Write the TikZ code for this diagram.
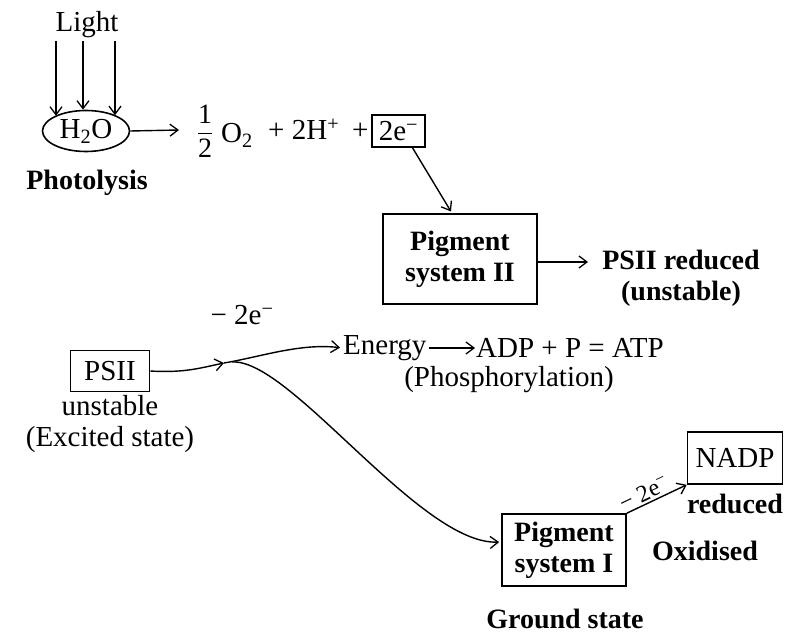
\documentclass[tikz,border=0pt]{standalone}
\usepackage{amsmath}
\usepackage{fontspec}
\setmainfont{Liberation Serif}
\usetikzlibrary{shapes.geometric,arrows.meta}
\begin{document}
\begin{tikzpicture}[x=1pt,y=-1pt,
  arr/.style={-{Straight Barb[length=8pt,width=12pt,line width=1.3pt]}, line width=1.4pt},
  txt/.style={font=\fontsize{29}{31}\selectfont, inner sep=0pt},
  btxt/.style={font=\bfseries\fontsize{28}{31}\selectfont, inner sep=0pt, align=center},
  boxn/.style={draw, line width=1.6pt, inner sep=0pt, align=center}]
\useasboundingbox (0,0) rectangle (786,644);
% photolysis
\node[txt] (light) at (87,25) {Light};
\node[boxn, ellipse, txt, minimum width=87pt, minimum height=41pt] (h2o) at (86,131) {H\textsubscript{2}O};
\coordinate (l1) at (56,41);
\coordinate (l2) at (83,41);
\coordinate (l3) at (115,41);
\draw[arr] (l1) -- (h2o.154 -| l1);
\draw[arr] (l2) -- (h2o.98 -| l2);
\draw[arr] (l3) -- (h2o.28 -| l3);
\node[btxt] (photo) at (87,183) {Photolysis};
\coordinate (a1) at (179,130);
\draw[arr] (h2o.east) -- (a1);
\node[txt] (half) at (205,131) {\fontsize{28}{28}\selectfont$\displaystyle\frac{\text{1}}{\text{2}}$};
\node[txt, anchor=base west] (o2) at (221,143) {O\textsubscript{2}};
\node[txt, anchor=base west] (hplus) at (268,140) {+ 2H\textsuperscript{+}};
\node[txt, anchor=base west] (plus) at (352,140) {+};
\node[boxn, txt, minimum width=53pt, minimum height=32pt] (e2) at (398.5,131) {2e\textsuperscript{−}};
% pigment system II
\node[boxn, btxt, minimum width=154pt, minimum height=90pt] (ps2) at (460,259) {Pigment\\system II};
\draw[arr, shorten >=2pt] ([xshift=14pt]e2.south) -- ([xshift=-8pt]ps2.north);
\coordinate (a2) at (588,262);
\draw[arr] ([yshift=-3pt]ps2.east) -- (a2);
\node[btxt] (psred) at (681,278) {PSII reduced\\(unstable)};
% excited PSII
\node[txt] (m2e) at (242,315) {− 2e\textsuperscript{−}};
\node[boxn, txt, minimum width=79pt, minimum height=41pt] (psii) at (110,371) {PSII};
\node[txt, align=center] (unst) at (110,424) {unstable\\(Excited state)};
\coordinate (j) at (224,363);
\coordinate (j2) at (232,362);
\draw[arr] (psii.east) .. controls (185,373) and (200,368) .. (j);
\node[txt, anchor=west] (energy) at (343,348) {Energy};
\node[txt, anchor=west] (adp) at (476,348) {ADP + P = ATP};
\draw[arr, shorten >=3pt] (j) .. controls (260,357) and (300,343) .. (energy.west);
\draw[arr, shorten <=2pt, shorten >=1pt] (energy.east) -- (adp.west);
\node[txt] (phos) at (509,380) {(Phosphorylation)};
% pigment system I
\node[boxn, btxt, minimum width=124pt, minimum height=72pt] (ps1) at (564,550) {Pigment\\system I};
\draw[arr, shorten >=2pt] (j2) .. controls (290,358) and (420,545) .. ([yshift=8pt]ps1.west);
\node[boxn, txt, minimum width=95pt, minimum height=52pt] (nadp) at (735,458) {NADP};
\draw[arr] (ps1.north east) -- (nadp.south west)
  node[pos=0.36, above=2pt, sloped, font=\fontsize{24}{24}\selectfont, inner sep=0pt] (m2e2) {− 2e\textsuperscript{−}};
\node[btxt] (red) at (735,504) {reduced};
\node[btxt] (oxi) at (705,551) {Oxidised};
\node[btxt] (gs) at (565,619) {Ground state};
\end{tikzpicture}
\end{document}
